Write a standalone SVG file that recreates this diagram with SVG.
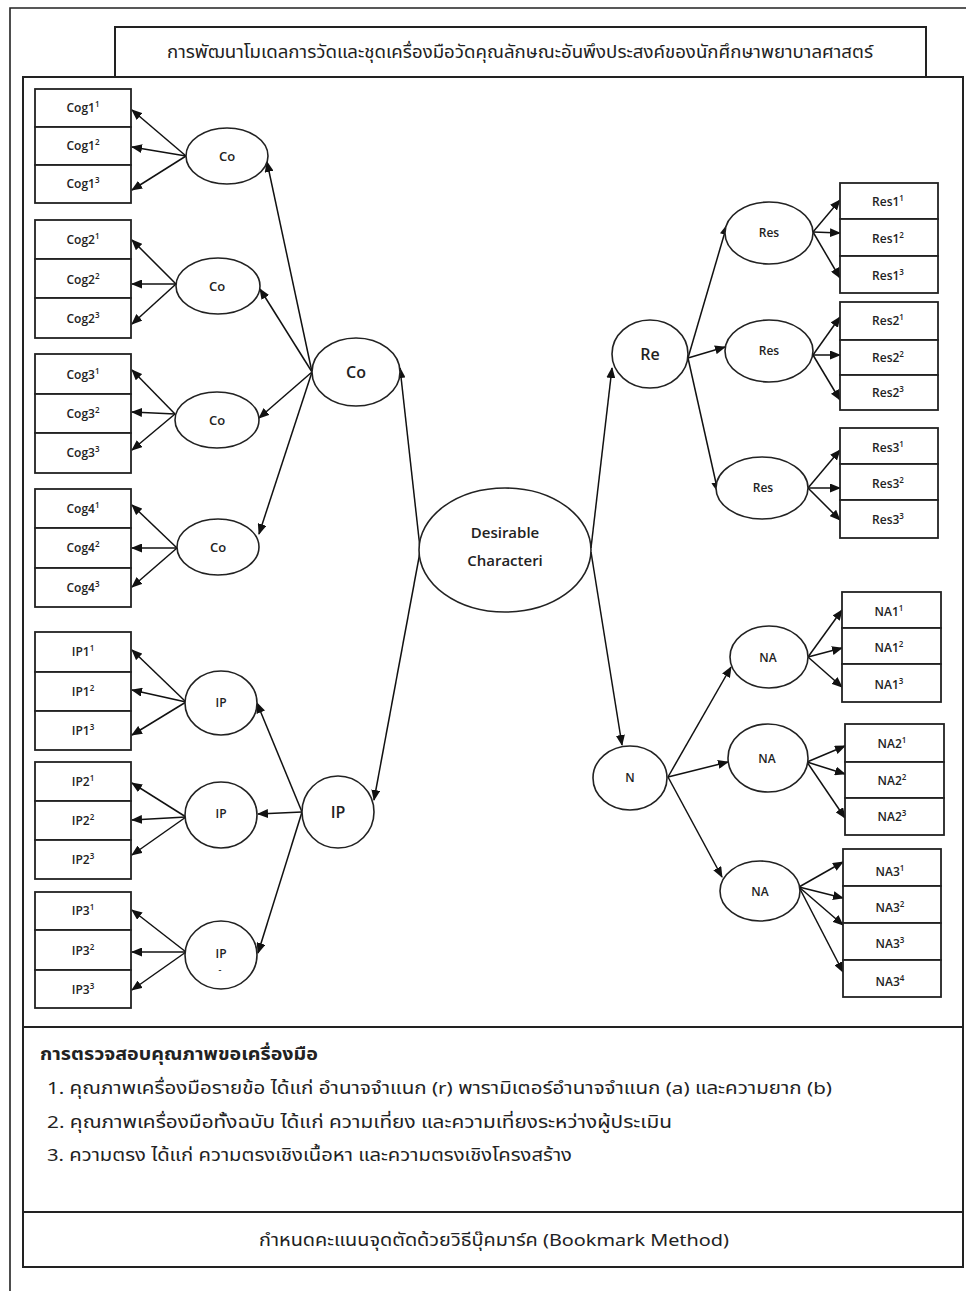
<svg xmlns="http://www.w3.org/2000/svg" width="966" height="1291" viewBox="0 0 966 1291">
  <defs>
    <marker id="arr" markerUnits="userSpaceOnUse" markerWidth="11" markerHeight="9" refX="10" refY="4.5" orient="auto">
      <path d="M0,0 L11,4.5 L0,9 z" fill="#111"/>
    </marker>
    <style>
      .frame { fill: none; stroke: #222; stroke-width: 1.6; }
      .box { fill: #fff; stroke: #222; stroke-width: 2; }
      .cell { fill: #fff; stroke: #222; stroke-width: 1.8; }
      .ell { fill: #fff; stroke: #222; stroke-width: 1.6; }
      .conn line { stroke: #111; stroke-width: 1.5; marker-end: url(#arr); }
      .lbl { font-family: "Open Sans", "DejaVu Sans", sans-serif; font-size: 12px; font-weight: 600; fill: #222; text-anchor: middle; }
      .sup { font-size: 8px; }
      .lat { font-family: "Open Sans", "DejaVu Sans", sans-serif; font-weight: 600; fill: #222; text-anchor: middle; }
      .th { font-family: "Noto Sans Thai", "DejaVu Sans", "Noto Sans", sans-serif; fill: #222; }
    </style>
  </defs>
  <rect width="966" height="1291" fill="#fff"/>

  <!-- page frame -->
  <path class="frame" d="M10,1291 L10,8 L966,8"/>

  <!-- title -->
  <g id="title">
    <rect class="box" x="115" y="27" width="811" height="50"/>
    <text class="th" x="520" y="58" font-size="17" text-anchor="middle" textLength="706" lengthAdjust="spacingAndGlyphs">การพัฒนาโมเดลการวัดและชุดเครื่องมือวัดคุณลักษณะอันพึงประสงค์ของนักศึกษาพยาบาลศาสตร์</text>
  </g>

  <!-- main panel -->
  <g id="panel">
    <rect class="box" x="23" y="77" width="940" height="1190"/>
    <line x1="23" y1="1027" x2="963" y2="1027" stroke="#222" stroke-width="2"/>
    <line x1="23" y1="1212" x2="963" y2="1212" stroke="#222" stroke-width="2"/>
  </g>

  <!-- connectors -->
  <g id="connectors" class="conn">
    <line x1="420" y1="548" x2="400" y2="368"/>
    <line x1="420" y1="552" x2="374" y2="800"/>
    <line x1="591" y1="548" x2="612" y2="368"/>
    <line x1="591" y1="552" x2="622" y2="745"/>

    <line x1="312" y1="372" x2="267" y2="162"/>
    <line x1="312" y1="372" x2="260" y2="289"/>
    <line x1="312" y1="372" x2="259" y2="418"/>
    <line x1="312" y1="372" x2="259" y2="534"/>

    <line x1="302" y1="812" x2="257" y2="703"/>
    <line x1="302" y1="812" x2="258" y2="814"/>
    <line x1="302" y1="812" x2="258" y2="953"/>

    <line x1="186" y1="156" x2="132" y2="110"/>
    <line x1="186" y1="156" x2="132" y2="147"/>
    <line x1="186" y1="156" x2="132" y2="190"/>
    <line x1="176" y1="284" x2="132" y2="240"/>
    <line x1="176" y1="284" x2="132" y2="284"/>
    <line x1="176" y1="284" x2="132" y2="324"/>
    <line x1="175" y1="414" x2="132" y2="370"/>
    <line x1="175" y1="414" x2="132" y2="412"/>
    <line x1="175" y1="414" x2="132" y2="450"/>
    <line x1="177" y1="548" x2="132" y2="505"/>
    <line x1="177" y1="548" x2="132" y2="548"/>
    <line x1="177" y1="548" x2="132" y2="587"/>
    <line x1="186" y1="702" x2="132" y2="650"/>
    <line x1="186" y1="702" x2="132" y2="690"/>
    <line x1="186" y1="702" x2="132" y2="735"/>
    <line x1="186" y1="817" x2="132" y2="783"/>
    <line x1="186" y1="817" x2="132" y2="820"/>
    <line x1="186" y1="817" x2="132" y2="855"/>
    <line x1="186" y1="952" x2="132" y2="910"/>
    <line x1="186" y1="952" x2="132" y2="952"/>
    <line x1="186" y1="952" x2="132" y2="990"/>

    <line x1="688" y1="358" x2="727" y2="225"/>
    <line x1="688" y1="358" x2="725" y2="347"/>
    <line x1="688" y1="358" x2="718" y2="492"/>
    <line x1="813" y1="232" x2="840" y2="200"/>
    <line x1="813" y1="232" x2="840" y2="233"/>
    <line x1="813" y1="232" x2="840" y2="278"/>
    <line x1="813" y1="355" x2="840" y2="317"/>
    <line x1="813" y1="355" x2="840" y2="355"/>
    <line x1="813" y1="355" x2="840" y2="400"/>
    <line x1="808" y1="488" x2="840" y2="450"/>
    <line x1="808" y1="488" x2="840" y2="488"/>
    <line x1="808" y1="488" x2="840" y2="520"/>

    <line x1="668" y1="777" x2="731" y2="667"/>
    <line x1="668" y1="777" x2="728" y2="762"/>
    <line x1="668" y1="777" x2="722" y2="877"/>
    <line x1="808" y1="657" x2="842" y2="610"/>
    <line x1="808" y1="657" x2="842" y2="648"/>
    <line x1="808" y1="657" x2="842" y2="687"/>
    <line x1="807" y1="762" x2="845" y2="746"/>
    <line x1="807" y1="762" x2="845" y2="774"/>
    <line x1="807" y1="762" x2="845" y2="818"/>
    <line x1="799" y1="887" x2="843" y2="862"/>
    <line x1="799" y1="887" x2="843" y2="898"/>
    <line x1="799" y1="887" x2="843" y2="925"/>
    <line x1="799" y1="887" x2="843" y2="972"/>
  </g>

  <!-- central construct -->
  <g id="desirable">
    <ellipse class="ell" cx="505" cy="550" rx="86" ry="62"/>
    <text class="lat" x="505" y="538" font-size="15">Desirable</text>
    <text class="lat" x="505" y="566" font-size="15">Characteri</text>
  </g>

  <!-- second-order factors -->
  <g id="co-main"><ellipse class="ell" cx="356" cy="372" rx="44" ry="34"/><text class="lat" x="356" y="378" font-size="16">Co</text></g>
  <g id="ip-main"><ellipse class="ell" cx="338" cy="812" rx="36" ry="36"/><text class="lat" x="338" y="818" font-size="16">IP</text></g>
  <g id="re-main"><ellipse class="ell" cx="650" cy="354" rx="38" ry="34"/><text class="lat" x="650" y="360" font-size="16">Re</text></g>
  <g id="n-main"><ellipse class="ell" cx="630" cy="778" rx="37" ry="32"/><text class="lat" x="630" y="782" font-size="12">N</text></g>

  <!-- first-order factors -->
  <g id="co1"><ellipse class="ell" cx="227" cy="156" rx="41" ry="28"/><text class="lat" x="227" y="161" font-size="13">Co</text></g>
  <g id="co2"><ellipse class="ell" cx="218" cy="286" rx="42" ry="28"/><text class="lat" x="217" y="291" font-size="13">Co</text></g>
  <g id="co3"><ellipse class="ell" cx="217" cy="420" rx="42" ry="28"/><text class="lat" x="217" y="425" font-size="13">Co</text></g>
  <g id="co4"><ellipse class="ell" cx="218" cy="547" rx="41" ry="28"/><text class="lat" x="218" y="552" font-size="13">Co</text></g>
  <g id="ip1"><ellipse class="ell" cx="221" cy="703" rx="36" ry="32"/><text class="lat" x="221" y="707" font-size="12">IP</text></g>
  <g id="ip2"><ellipse class="ell" cx="221" cy="815" rx="36" ry="33"/><text class="lat" x="221" y="818" font-size="12">IP</text></g>
  <g id="ip3"><ellipse class="ell" cx="221" cy="955" rx="36" ry="34"/><text class="lat" x="221" y="958" font-size="12">IP</text><text class="lat" x="220" y="973" font-size="9">-</text></g>
  <g id="res1"><ellipse class="ell" cx="769" cy="233" rx="44" ry="31"/><text class="lat" x="769" y="237" font-size="12">Res</text></g>
  <g id="res2"><ellipse class="ell" cx="769" cy="351" rx="44" ry="31"/><text class="lat" x="769" y="355" font-size="12">Res</text></g>
  <g id="res3"><ellipse class="ell" cx="762" cy="488" rx="46" ry="31"/><text class="lat" x="763" y="492" font-size="12">Res</text></g>
  <g id="na1"><ellipse class="ell" cx="769" cy="657" rx="39" ry="31"/><text class="lat" x="768" y="662" font-size="12">NA</text></g>
  <g id="na2"><ellipse class="ell" cx="768" cy="758" rx="40" ry="34"/><text class="lat" x="767" y="763" font-size="12">NA</text></g>
  <g id="na3"><ellipse class="ell" cx="760" cy="891" rx="40" ry="30"/><text class="lat" x="760" y="896" font-size="12">NA</text></g>

  <!-- observed indicators, left -->
  <g id="cog1-items">
    <rect class="cell" x="35" y="89" width="96" height="38"/><rect class="cell" x="35" y="127" width="96" height="38"/><rect class="cell" x="35" y="165" width="96" height="38"/>
    <text class="lbl" x="83" y="112">Cog1<tspan class="sup" dy="-5">1</tspan></text>
    <text class="lbl" x="83" y="150">Cog1<tspan class="sup" dy="-5">2</tspan></text>
    <text class="lbl" x="83" y="188">Cog1<tspan class="sup" dy="-5">3</tspan></text>
  </g>
  <g id="cog2-items">
    <rect class="cell" x="35" y="220" width="96" height="39"/><rect class="cell" x="35" y="259" width="96" height="39"/><rect class="cell" x="35" y="298" width="96" height="40"/>
    <text class="lbl" x="83" y="244">Cog2<tspan class="sup" dy="-5">1</tspan></text>
    <text class="lbl" x="83" y="284">Cog2<tspan class="sup" dy="-5">2</tspan></text>
    <text class="lbl" x="83" y="323">Cog2<tspan class="sup" dy="-5">3</tspan></text>
  </g>
  <g id="cog3-items">
    <rect class="cell" x="35" y="354" width="96" height="40"/><rect class="cell" x="35" y="394" width="96" height="39"/><rect class="cell" x="35" y="433" width="96" height="40"/>
    <text class="lbl" x="83" y="379">Cog3<tspan class="sup" dy="-5">1</tspan></text>
    <text class="lbl" x="83" y="418">Cog3<tspan class="sup" dy="-5">2</tspan></text>
    <text class="lbl" x="83" y="457">Cog3<tspan class="sup" dy="-5">3</tspan></text>
  </g>
  <g id="cog4-items">
    <rect class="cell" x="35" y="489" width="96" height="39"/><rect class="cell" x="35" y="528" width="96" height="40"/><rect class="cell" x="35" y="568" width="96" height="39"/>
    <text class="lbl" x="83" y="513">Cog4<tspan class="sup" dy="-5">1</tspan></text>
    <text class="lbl" x="83" y="552">Cog4<tspan class="sup" dy="-5">2</tspan></text>
    <text class="lbl" x="83" y="592">Cog4<tspan class="sup" dy="-5">3</tspan></text>
  </g>
  <g id="ip1-items">
    <rect class="cell" x="35" y="632" width="96" height="40"/><rect class="cell" x="35" y="672" width="96" height="39"/><rect class="cell" x="35" y="711" width="96" height="39"/>
    <text class="lbl" x="83" y="656">IP1<tspan class="sup" dy="-5">1</tspan></text>
    <text class="lbl" x="83" y="696">IP1<tspan class="sup" dy="-5">2</tspan></text>
    <text class="lbl" x="83" y="735">IP1<tspan class="sup" dy="-5">3</tspan></text>
  </g>
  <g id="ip2-items">
    <rect class="cell" x="35" y="762" width="96" height="39"/><rect class="cell" x="35" y="801" width="96" height="39"/><rect class="cell" x="35" y="840" width="96" height="39"/>
    <text class="lbl" x="83" y="786">IP2<tspan class="sup" dy="-5">1</tspan></text>
    <text class="lbl" x="83" y="825">IP2<tspan class="sup" dy="-5">2</tspan></text>
    <text class="lbl" x="83" y="864">IP2<tspan class="sup" dy="-5">3</tspan></text>
  </g>
  <g id="ip3-items">
    <rect class="cell" x="35" y="892" width="96" height="38"/><rect class="cell" x="35" y="930" width="96" height="40"/><rect class="cell" x="35" y="970" width="96" height="38"/>
    <text class="lbl" x="83" y="915">IP3<tspan class="sup" dy="-5">1</tspan></text>
    <text class="lbl" x="83" y="955">IP3<tspan class="sup" dy="-5">2</tspan></text>
    <text class="lbl" x="83" y="994">IP3<tspan class="sup" dy="-5">3</tspan></text>
  </g>

  <!-- observed indicators, right -->
  <g id="res1-items">
    <rect class="cell" x="840" y="183" width="98" height="36"/><rect class="cell" x="840" y="219" width="98" height="37"/><rect class="cell" x="840" y="256" width="98" height="37"/>
    <text class="lbl" x="888" y="206">Res1<tspan class="sup" dy="-5">1</tspan></text>
    <text class="lbl" x="888" y="243">Res1<tspan class="sup" dy="-5">2</tspan></text>
    <text class="lbl" x="888" y="280">Res1<tspan class="sup" dy="-5">3</tspan></text>
  </g>
  <g id="res2-items">
    <rect class="cell" x="840" y="302" width="98" height="38"/><rect class="cell" x="840" y="340" width="98" height="35"/><rect class="cell" x="840" y="375" width="98" height="35"/>
    <text class="lbl" x="888" y="325">Res2<tspan class="sup" dy="-5">1</tspan></text>
    <text class="lbl" x="888" y="362">Res2<tspan class="sup" dy="-5">2</tspan></text>
    <text class="lbl" x="888" y="397">Res2<tspan class="sup" dy="-5">3</tspan></text>
  </g>
  <g id="res3-items">
    <rect class="cell" x="840" y="428" width="98" height="36"/><rect class="cell" x="840" y="464" width="98" height="36"/><rect class="cell" x="840" y="500" width="98" height="38"/>
    <text class="lbl" x="888" y="452">Res3<tspan class="sup" dy="-5">1</tspan></text>
    <text class="lbl" x="888" y="488">Res3<tspan class="sup" dy="-5">2</tspan></text>
    <text class="lbl" x="888" y="524">Res3<tspan class="sup" dy="-5">3</tspan></text>
  </g>
  <g id="na1-items">
    <rect class="cell" x="842" y="592" width="99" height="36"/><rect class="cell" x="842" y="628" width="99" height="36"/><rect class="cell" x="842" y="664" width="99" height="38"/>
    <text class="lbl" x="889" y="616">NA1<tspan class="sup" dy="-5">1</tspan></text>
    <text class="lbl" x="889" y="652">NA1<tspan class="sup" dy="-5">2</tspan></text>
    <text class="lbl" x="889" y="689">NA1<tspan class="sup" dy="-5">3</tspan></text>
  </g>
  <g id="na2-items">
    <rect class="cell" x="845" y="724" width="99" height="38"/><rect class="cell" x="845" y="762" width="99" height="36"/><rect class="cell" x="845" y="798" width="99" height="37"/>
    <text class="lbl" x="892" y="748">NA2<tspan class="sup" dy="-5">1</tspan></text>
    <text class="lbl" x="892" y="785">NA2<tspan class="sup" dy="-5">2</tspan></text>
    <text class="lbl" x="892" y="821">NA2<tspan class="sup" dy="-5">3</tspan></text>
  </g>
  <g id="na3-items">
    <rect class="cell" x="843" y="849" width="98" height="37"/><rect class="cell" x="843" y="886" width="98" height="37"/><rect class="cell" x="843" y="923" width="98" height="37"/><rect class="cell" x="843" y="960" width="98" height="37"/>
    <text class="lbl" x="890" y="876">NA3<tspan class="sup" dy="-5">1</tspan></text>
    <text class="lbl" x="890" y="912">NA3<tspan class="sup" dy="-5">2</tspan></text>
    <text class="lbl" x="890" y="948">NA3<tspan class="sup" dy="-5">3</tspan></text>
    <text class="lbl" x="890" y="986">NA3<tspan class="sup" dy="-5">4</tspan></text>
  </g>

  <!-- quality checks -->
  <g id="quality">
    <text class="th" x="40" y="1060" font-size="17" font-weight="bold" textLength="278" lengthAdjust="spacingAndGlyphs">การตรวจสอบคุณภาพขอเครื่องมือ</text>
    <text class="th" x="47" y="1094" font-size="17" textLength="785" lengthAdjust="spacingAndGlyphs">1. คุณภาพเครื่องมือรายข้อ ได้แก่ อำนาจจำแนก (r) พารามิเตอร์อำนาจจำแนก (a) และความยาก (b)</text>
    <text class="th" x="47" y="1128" font-size="17" textLength="625" lengthAdjust="spacingAndGlyphs">2. คุณภาพเครื่องมือทั้งฉบับ ได้แก่  ความเที่ยง  และความเที่ยงระหว่างผู้ประเมิน</text>
    <text class="th" x="47" y="1161" font-size="17" textLength="525" lengthAdjust="spacingAndGlyphs">3. ความตรง ได้แก่ ความตรงเชิงเนื้อหา  และความตรงเชิงโครงสร้าง</text>
  </g>

  <!-- cut score -->
  <g id="cutscore">
    <text class="th" x="494" y="1246" font-size="17" text-anchor="middle" textLength="470" lengthAdjust="spacingAndGlyphs">กำหนดคะแนนจุดตัดด้วยวิธีบุ๊คมาร์ค (Bookmark Method)</text>
  </g>
</svg>
